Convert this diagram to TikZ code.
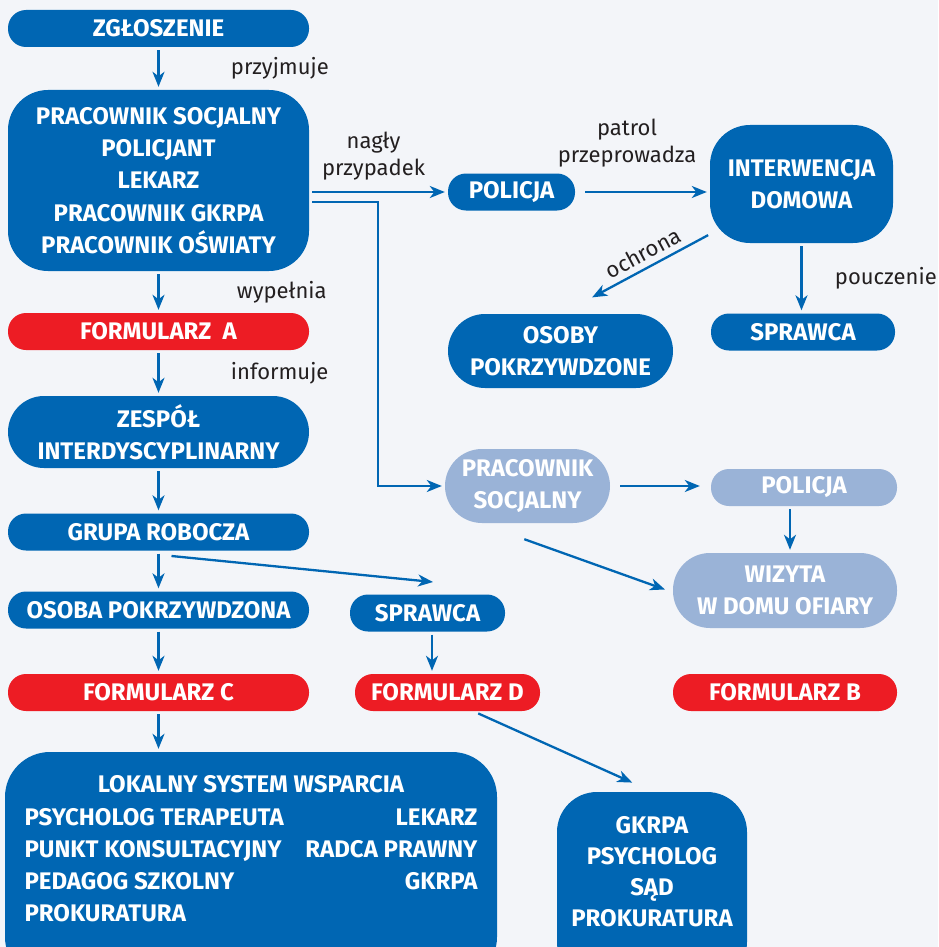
\documentclass[tikz,border=0pt]{standalone}
\usepackage{fontspec}
\setmainfont{Fira Sans}
\usetikzlibrary{arrows.meta,positioning}
\definecolor{boxblue}{RGB}{0,102,179}
\definecolor{formred}{RGB}{237,28,36}
\definecolor{paleblue}{RGB}{154,179,215}
\definecolor{labelgray}{RGB}{35,31,32}
\definecolor{backdrop}{RGB}{243,245,249}
\newcommand{\boxfont}{\fontsize{24}{32.3}\selectfont\bfseries}
\newcommand{\labelfont}{\fontsize{22}{27}\selectfont}
\tikzstyle{pill} = [rectangle, rounded corners=18pt, minimum height=37pt, inner sep=0pt, text centered, fill=boxblue, text=white, font=\boxfont]
\tikzstyle{form} = [pill, fill=formred]
\tikzstyle{pale} = [pill, fill=paleblue]
\tikzstyle{block} = [rectangle, rounded corners=40pt, inner sep=0pt, align=center, fill=boxblue, text=white, font=\boxfont]
\tikzstyle{arrow} = [line width=2.3pt, draw=boxblue, -{Stealth[length=15pt,width=12pt,inset=4.5pt]}, shorten >=3pt, shorten <=3pt]
\tikzstyle{lbl} = [font=\labelfont, text=labelgray, align=center]

\begin{document}
\begin{tikzpicture}[x=1pt, y=-1pt]

	\useasboundingbox (0,0) rectangle (938,947);
	\fill[backdrop] (0,0) rectangle (938,947);
	\clip (0,0) rectangle (938,947);

	% left column
	\node (zgl) [pill, minimum width=301pt] at (158.5,28.5) {ZGŁOSZENIE};
	\node (prac) [block, minimum width=301pt, minimum height=181pt] at (158.5,180.5) {PRACOWNIK SOCJALNY\\POLICJANT\\LEKARZ\\PRACOWNIK GKRPA\\PRACOWNIK OŚWIATY};
	\node (formA) [form, minimum width=301pt] at (158.5,331.5) {FORMULARZ\ \ A};
	\node (zesp) [block, rounded corners=36pt, minimum width=301pt, minimum height=72pt] at (158.5,432) {ZESPÓŁ\\INTERDYSCYPLINARNY};
	\node (grupa) [pill, minimum width=301pt] at (158.5,532) {GRUPA ROBOCZA};
	\node (osoba) [pill, minimum width=301pt] at (158.5,610) {OSOBA POKRZYWDZONA};
	\node (formC) [form, minimum width=301pt] at (158.5,692.5) {FORMULARZ C};
	\node (lokal) [block, rounded corners=45pt, minimum width=492pt, minimum height=230pt] at (251,867) {\mbox{\begin{tabular*}{453pt}{@{}l@{\extracolsep{\fill}}r@{}}
		\multicolumn{2}{c}{LOKALNY SYSTEM WSPARCIA}\\
		PSYCHOLOG TERAPEUTA & LEKARZ\\
		PUNKT KONSULTACYJNY & RADCA PRAWNY\\
		PEDAGOG SZKOLNY & GKRPA\\
		PROKURATURA & \\
		\mbox{} & \end{tabular*}}};

	% middle
	\node (sprawcaGr) [pill, minimum width=155pt] at (427.5,613) {SPRAWCA};
	\node (formD) [form, minimum width=185pt] at (447.5,692.5) {FORMULARZ D};
	\node (gkrpa) [block, font=\fontsize{24}{31}\selectfont\bfseries, minimum width=190pt, minimum height=190pt] at (652,887) {GKRPA\\PSYCHOLOG\\SĄD\\PROKURATURA\\~};

	% right part
	\node (policja) [pill, minimum width=127pt] at (511.5,192) {POLICJA};
	\node (interw) [block, minimum width=183pt, minimum height=118pt] at (801.5,184) {INTERWENCJA\\DOMOWA};
	\node (osoby) [block, rounded corners=37pt, minimum width=225pt, minimum height=74pt] at (560.5,351) {OSOBY\\POKRZYWDZONE};
	\node (sprawcaInt) [pill, minimum width=184pt] at (803,332) {SPRAWCA};
	\node (socjal) [block, fill=paleblue, rounded corners=37pt, minimum width=165pt, minimum height=74pt] at (527.5,486) {PRACOWNIK\\SOCJALNY};
	\node (policjaP) [pale, minimum width=186pt] at (804,487.5) {POLICJA};
	\node (wizyta) [block, fill=paleblue, rounded corners=37pt, minimum width=224pt, minimum height=75pt] at (785,590.5) {WIZYTA\\W DOMU OFIARY};
	\node (formB) [form, minimum width=224pt] at (785,692.5) {FORMULARZ B};

	\coordinate (knee) at (378,202);

	\draw[arrow] (zgl) -- (prac) node[lbl, midway, right, xshift=68pt] {przyjmuje};
	\draw[arrow] (prac) -- (formA) node[lbl, midway, right, xshift=74pt] {wypełnia};
	\draw[arrow] (formA) -- (zesp) node[lbl, midway, right, xshift=68pt] {informuje};
	\draw[arrow] (zesp) -- (grupa);
	\draw[arrow] (grupa) -- (osoba);
	\draw[arrow] (osoba) -- (formC);
	\draw[arrow] (formC) -- (formC |- lokal.north);
	\draw[arrow] ([xshift=10pt,yshift=-5pt]grupa.south) -- ([xshift=8.5pt,yshift=12pt]sprawcaGr.north);
	\draw[arrow] ([xshift=4.5pt]sprawcaGr.south) -- ([xshift=4.5pt]sprawcaGr.south |- formD.north);
	\draw[arrow] ([xshift=28pt,yshift=-1pt]formD.south) -- ([xshift=-17pt,yshift=8pt]gkrpa.north);

	\draw[arrow] (prac.east |- policja) -- (policja) node[lbl, midway, above, xshift=-5pt, yshift=7pt] {nagły\\przypadek};
	\draw[arrow] (prac.east |- knee) -- (knee) |- (socjal);
	\draw[arrow] ([xshift=7pt]policja.east) -- (policja -| interw.west) node[lbl, midway, above, xshift=-19pt, yshift=20pt] {patrol\\przeprowadza};
	\draw[arrow] ([xshift=1pt,yshift=9.5pt]interw.south west) -- ([xshift=29pt,yshift=15pt]osoby.north) node[lbl, midway, above, sloped, yshift=2pt] {ochrona};
	\draw[arrow] (interw.south) -- (interw.south |- sprawcaInt.north) node[lbl, midway, right, xshift=29pt] {pouczenie};
	\draw[arrow] ([xshift=7pt]socjal.east) -- ([xshift=-8pt]socjal.east -| policjaP.west);
	\draw[arrow] ([xshift=-14pt]policjaP.south) -- ([xshift=-14pt]policjaP.south |- wizyta.north);
	\draw[arrow] ([xshift=-6pt,yshift=-15pt]socjal.south) -- ([xshift=-5pt]wizyta.west);

\end{tikzpicture}
\end{document}
